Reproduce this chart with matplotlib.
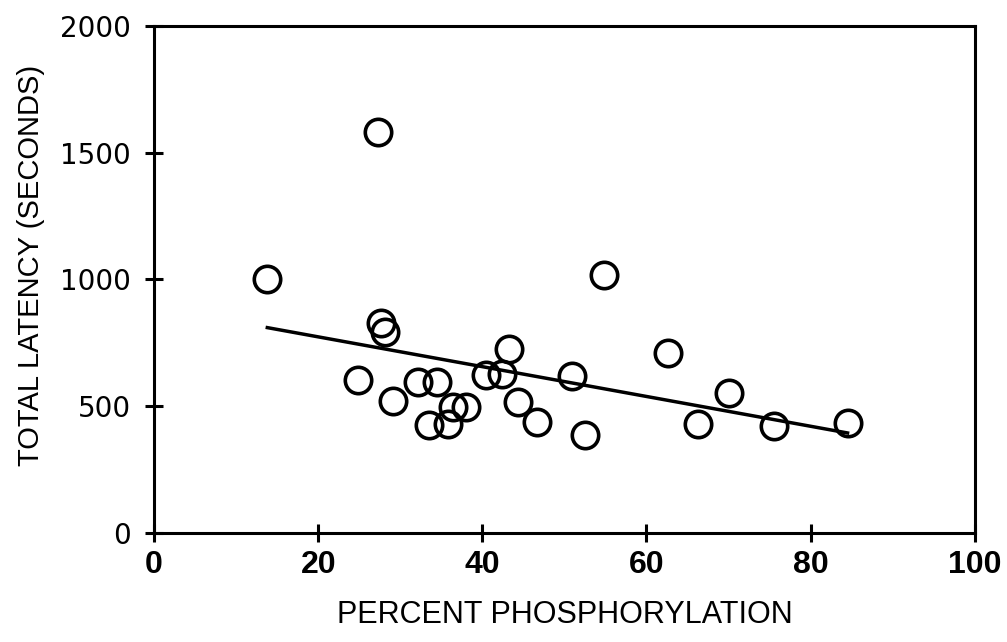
import matplotlib.pyplot as plt
import numpy as np

# percent phosphorylation vs total latency (s)
phos = [13.8, 27.3, 54.8, 27.6, 28.1, 24.9, 29.1, 32.2, 34.5, 36.4, 38.0,
        33.5, 35.8, 40.4, 43.2, 42.4, 44.4, 46.7, 50.9, 52.5, 62.6, 70.1,
        66.3, 75.5, 84.5]
latency = [1002, 1581, 1018, 827, 794, 604, 522, 597, 597, 498, 496,
           426, 430, 623, 725, 627, 518, 439, 619, 387, 709, 553,
           429, 422, 433]

# regression line drawn in the figure
fit_slope = -5.88
fit_intercept = 891

xticks = [0, 20, 40, 60, 80, 100]
yticks = [0, 500, 1000, 1500, 2000]

fig = plt.figure(figsize=(10.07, 6.42), dpi=100)
ax = fig.add_axes([0.153, 0.170, 0.815, 0.7895])

ax.plot(phos, latency, 'o', ms=19, mfc='none', mec='black', mew=2.6,
        zorder=3)
fx = np.array([min(phos), max(phos)])
ax.plot(fx, fit_intercept + fit_slope * fx, color='black', lw=2.5)

ax.set_xlim(0, 100)
ax.set_ylim(0, 2000)
ax.set_xticks(xticks)
ax.set_yticks(yticks)
ax.set_xticklabels([str(t) for t in xticks], family='Liberation Sans',
                   fontsize=23, fontweight='bold')
ax.set_yticklabels([str(t) for t in yticks], family='DejaVu Sans',
                   fontsize=20)
ax.tick_params(axis='both', direction='inout', length=13, width=2.2,
               top=False, right=False)
ax.tick_params(axis='x', pad=6)
ax.tick_params(axis='y', pad=10)

for s in ax.spines.values():
    s.set_linewidth(2.2)

ax.set_xlabel('PERCENT PHOSPHORYLATION', family='Liberation Sans',
              fontsize=22, labelpad=14)
ax.set_ylabel('TOTAL LATENCY (SECONDS)', family='Liberation Sans',
              fontsize=21)
ax.yaxis.set_label_coords(-0.133, 0.527)

fig.savefig('out.png', dpi=100)
